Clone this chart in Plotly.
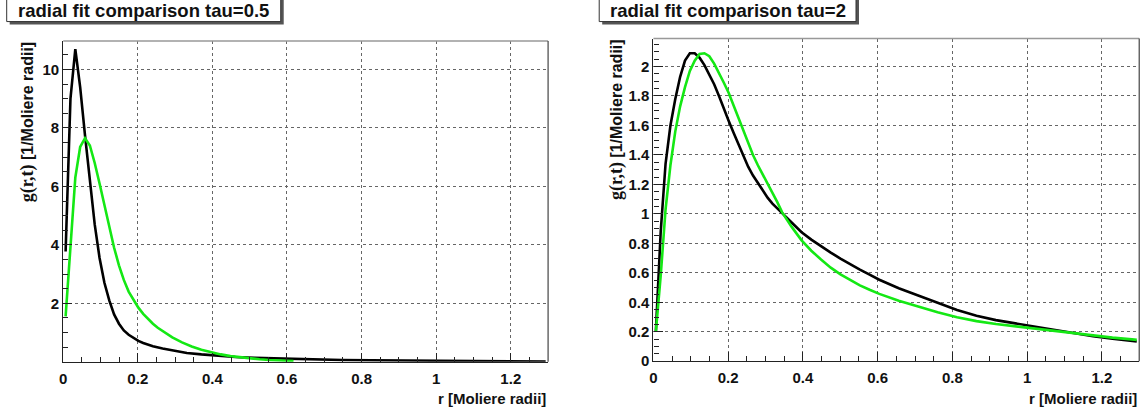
import plotly.graph_objects as go

# ---------------- data ----------------
# left panel: tau = 0.5
r_left_black = [0.0065, 0.0195, 0.0325, 0.0455, 0.0585, 0.0715, 0.0845, 0.0975, 0.1105, 0.1235,
                0.1365, 0.1495, 0.1625, 0.1755, 0.1885, 0.2015, 0.2145, 0.2275, 0.2405, 0.2665,
                0.2925, 0.3315, 0.3705, 0.4095, 0.4615, 0.5135, 0.5915, 0.6695, 0.7475, 0.8255,
                0.9035, 0.9815, 1.0595, 1.1375, 1.2155, 1.2935]
g_left_black = [3.77, 9.0, 10.7, 9.4, 7.75, 6.15, 4.7, 3.55, 2.7, 2.1,
                1.62, 1.3, 1.07, 0.92, 0.8, 0.71, 0.64, 0.58, 0.53, 0.45,
                0.38, 0.30, 0.25, 0.205, 0.16, 0.13, 0.10, 0.08, 0.06, 0.05,
                0.04, 0.03, 0.02, 0.015, 0.01, 0.005]

r_left_green = [0.0065, 0.0195, 0.0325, 0.0455, 0.0585, 0.0715, 0.0845, 0.0975, 0.1105, 0.1235,
                0.1365, 0.1495, 0.1625, 0.1755, 0.1885, 0.2015, 0.2145, 0.2275, 0.2405, 0.2535,
                0.2665, 0.2795, 0.2925, 0.3185, 0.3445, 0.3705, 0.3965, 0.4225, 0.4485, 0.4745,
                0.5005, 0.5265, 0.5525, 0.5785, 0.6045, 0.6175]
g_left_green = [1.55, 4.1, 6.3, 7.35, 7.65, 7.4, 6.8, 6.1, 5.35, 4.6,
                3.9, 3.3, 2.8, 2.4, 2.1, 1.85, 1.64, 1.46, 1.3, 1.16,
                1.04, 0.93, 0.83, 0.66, 0.52, 0.41, 0.32, 0.25, 0.19, 0.15,
                0.11, 0.085, 0.06, 0.045, 0.03, 0.025]

# right panel: tau = 2
r_right = [0.0065, 0.0195, 0.0325, 0.0455, 0.0585, 0.0715, 0.0845, 0.0975, 0.1105, 0.1235,
           0.1365, 0.1495, 0.1625, 0.1755, 0.1885, 0.2015, 0.2145, 0.2275, 0.2405, 0.2535,
           0.2665, 0.2795, 0.2925, 0.3055, 0.3185, 0.3315, 0.3445, 0.3705, 0.3965, 0.4225,
           0.4485, 0.4745, 0.5005, 0.5265, 0.5525, 0.5785, 0.6045, 0.6565, 0.7085, 0.7605,
           0.8125, 0.8645, 0.9165, 0.9685, 1.0205, 1.0725, 1.1245, 1.1765, 1.2285, 1.2805,
           1.2935]
g_right_black = [0.20, 0.88, 1.34, 1.60, 1.78, 1.93, 2.04, 2.09, 2.09, 2.06,
                 2.01, 1.95, 1.88, 1.80, 1.71, 1.63, 1.55, 1.47, 1.39, 1.32,
                 1.26, 1.21, 1.16, 1.11, 1.07, 1.04, 1.005, 0.94, 0.875, 0.825,
                 0.78, 0.737, 0.697, 0.658, 0.622, 0.587, 0.553, 0.495, 0.445, 0.397,
                 0.348, 0.308, 0.279, 0.257, 0.234, 0.211, 0.19, 0.169, 0.152, 0.137,
                 0.134]
g_right_green = [0.20, 0.58, 1.03, 1.33, 1.56, 1.73, 1.86, 1.97, 2.04, 2.085,
                 2.09, 2.07, 2.02, 1.96, 1.89, 1.82, 1.735, 1.65, 1.56, 1.48,
                 1.40, 1.33, 1.27, 1.21, 1.15, 1.08, 1.01, 0.91, 0.82, 0.75,
                 0.69, 0.635, 0.59, 0.55, 0.515, 0.485, 0.457, 0.41, 0.37, 0.332,
                 0.299, 0.272, 0.252, 0.236, 0.22, 0.203, 0.187, 0.173, 0.16, 0.148,
                 0.145]

titles = ["radial fit comparison tau=0.5", "radial fit comparison tau=2"]
x_title = "r [Moliere radii]"
y_title = ("<span style='font-family:Liberation Serif;font-size:18px'>g(r,t)</span>"
           " [1/Moliere radii]")

# ---------------- figure ----------------
W, H = 1144, 410
BLACK = "#000000"
GREEN = "rgb(20,232,20)"
FONT = "Liberation Sans, Arial, sans-serif"

fig = go.Figure()
fig.add_trace(go.Scatter(x=r_left_black, y=g_left_black, mode="lines",
                         line=dict(color=BLACK, width=2.6), xaxis="x", yaxis="y"))
fig.add_trace(go.Scatter(x=r_left_green, y=g_left_green, mode="lines",
                         line=dict(color=GREEN, width=2.6), xaxis="x", yaxis="y"))
fig.add_trace(go.Scatter(x=r_right, y=g_right_black, mode="lines",
                         line=dict(color=BLACK, width=2.6), xaxis="x2", yaxis="y2"))
fig.add_trace(go.Scatter(x=r_right, y=g_right_green, mode="lines",
                         line=dict(color=GREEN, width=2.6), xaxis="x2", yaxis="y2"))

# plot-area pixel boxes (left, top, right, bottom)
boxL = (59.4, 41.7, 546.0, 368.9)
boxR = (651.7, 39.3, 1139.2, 368.4)

def px(x):
    return x / W

def py(y):
    return 1 - y / H

tickfont = dict(family=FONT, size=15, color="#111", weight="bold")
common_axis = dict(showline=True, linecolor="#222", linewidth=1.2, ticks="inside",
                   ticklen=9, tickwidth=1, tickcolor="#222", showgrid=True,
                   gridcolor="#666", griddash="dot", gridwidth=1, zeroline=False,
                   tickfont=tickfont, fixedrange=True)
minor_x = dict(dtick=0.05, ticklen=5, ticks="inside", tickcolor="#222", showgrid=False)

fig.update_layout(
    width=W, height=H,
    margin=dict(l=0, r=0, t=0, b=0),
    paper_bgcolor="white", plot_bgcolor="white",
    showlegend=False,
    xaxis=dict(domain=[px(boxL[0]), px(boxL[2])], range=[0, 1.3], anchor="y",
               tickvals=[0, 0.2, 0.4, 0.6, 0.8, 1.0, 1.2],
               ticktext=["0", "0.2", "0.4", "0.6", "0.8", "1", "1.2"],
               ticklabelstandoff=3, minor=minor_x, **common_axis),
    yaxis=dict(domain=[py(boxL[3]), py(boxL[1])], range=[0, 10.98], anchor="x",
               tickvals=[2, 4, 6, 8, 10],
               minor=dict(dtick=0.5, ticklen=5, ticks="inside", tickcolor="#222", showgrid=False),
               **common_axis),
    xaxis2=dict(domain=[px(boxR[0]), px(boxR[2])], range=[0, 1.3], anchor="y2",
                tickvals=[0, 0.2, 0.4, 0.6, 0.8, 1.0, 1.2],
                ticktext=["0", "0.2", "0.4", "0.6", "0.8", "1", "1.2"],
                ticklabelstandoff=3, minor=minor_x, **common_axis),
    yaxis2=dict(domain=[py(boxR[3]), py(boxR[1])], range=[0, 2.19], anchor="x2",
                tickvals=[0, 0.2, 0.4, 0.6, 0.8, 1.0, 1.2, 1.4, 1.6, 1.8, 2.0],
                ticktext=["0", "0.2", "0.4", "0.6", "0.8", "1", "1.2", "1.4", "1.6", "1.8", "2"],
                minor=dict(dtick=0.05, ticklen=5, ticks="inside", tickcolor="#222", showgrid=False),
                **common_axis),
)

shapes = []
annotations = []
for box, title, tbox, ytx in [(boxL, titles[0], (2.7, 277.7), 24.0),
                               (boxR, titles[1], (597.3, 855.0), 614.0)]:
    l, t, r, b = box
    # frame top and right
    shapes.append(dict(type="line", xref="paper", yref="paper", x0=px(l), x1=px(r), y0=py(t), y1=py(t),
                       line=dict(color="#999", width=1.5)))
    shapes.append(dict(type="line", xref="paper", yref="paper", x0=px(r), x1=px(r), y0=py(t), y1=py(b),
                       line=dict(color="#444", width=1.2)))
    # title box with shadow
    tl, tr = tbox
    shapes.append(dict(type="rect", xref="paper", yref="paper", x0=px(tl + 3), x1=px(tr + 3),
                       y0=py(25), y1=py(-3), fillcolor="#555", line=dict(width=0), layer="above"))
    shapes.append(dict(type="rect", xref="paper", yref="paper", x0=px(tl), x1=px(tr),
                       y0=py(22), y1=py(-3), fillcolor="white", line=dict(color="#333", width=1), layer="above"))
    annotations.append(dict(xref="paper", yref="paper", x=px((tl + tr) / 2), y=py(10.5),
                            text=f"<b>{title}</b>", showarrow=False, xanchor="center", yanchor="middle",
                            font=dict(family=FONT, size=18.5, color="#111")))
    # x title, right aligned
    annotations.append(dict(xref="paper", yref="paper", x=px(r), y=py(406), text=f"<b>{x_title}</b>",
                            showarrow=False, xanchor="right", yanchor="middle",
                            font=dict(family=FONT, size=15, color="#111")))
    # y title, rotated, aligned with top of the frame
    annotations.append(dict(xref="paper", yref="paper", x=px(ytx), y=py(t - 2), text=f"<b>{y_title}</b>",
                            showarrow=False, textangle=-90, xanchor="center", yanchor="top",
                            font=dict(family=FONT, size=16, color="#111")))

fig.update_layout(shapes=shapes, annotations=annotations)
fig.write_html("out.html")
